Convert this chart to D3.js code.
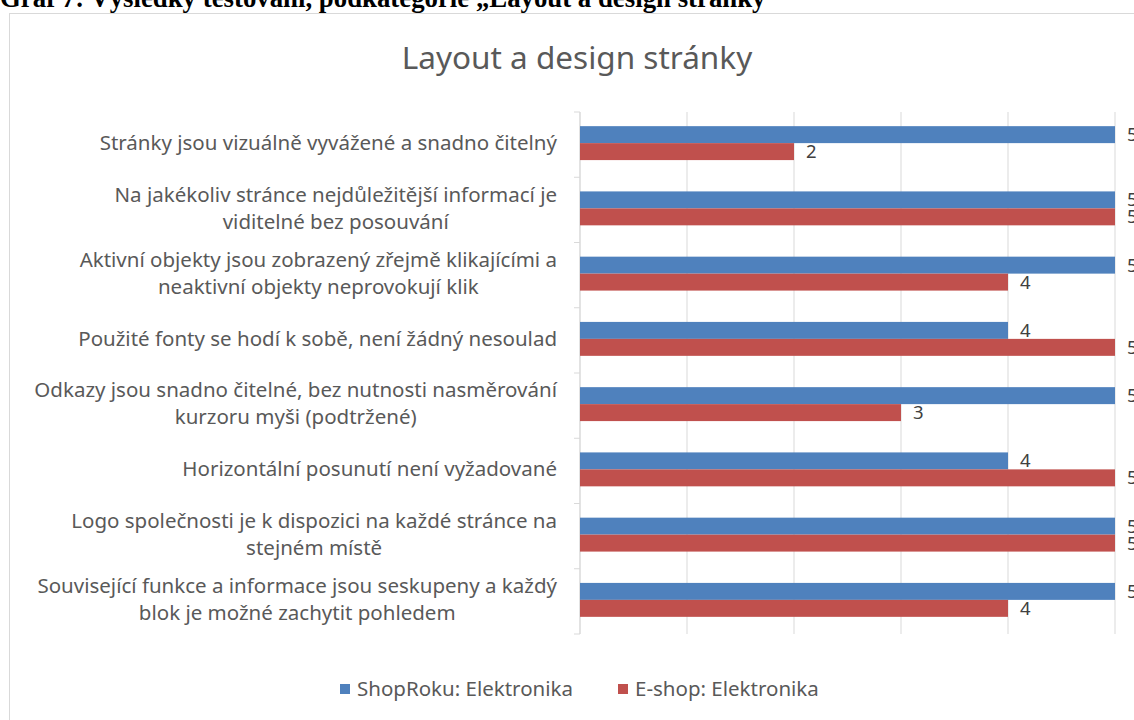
<!DOCTYPE html>
<html>
<head>
<meta charset="utf-8">
<script src="https://cdn.jsdelivr.net/npm/d3@7"></script>
<style>
  html, body { margin: 0; padding: 0; background: #fff; }
  svg { display: block; }
</style>
</head>
<body>
<svg id="chart" width="1134" height="720"></svg>
<script>
// Survey subcategory "Layout a design stránky" — scores per criterion
const categories = [
  ["Stránky jsou vizuálně vyvážené a snadno čitelný"],
  ["Na jakékoliv stránce nejdůležitější informací je", "viditelné bez posouvání"],
  ["Aktivní objekty jsou zobrazený zřejmě klikajícími a", "neaktivní objekty neprovokují klik"],
  ["Použité fonty se hodí k sobě, není žádný nesoulad"],
  ["Odkazy jsou snadno čitelné, bez nutnosti nasměrování", "kurzoru myši (podtržené)"],
  ["Horizontální posunutí není vyžadované"],
  ["Logo společnosti je k dispozici na každé stránce na", "stejném místě"],
  ["Související funkce a informace jsou seskupeny a každý", "blok je možné zachytit pohledem"]
];
const seriesNames = ["ShopRoku: Elektronika", "E-shop: Elektronika"];
const shopRoku = [5, 5, 5, 4, 5, 4, 5, 5];
const eShop    = [2, 5, 4, 5, 3, 5, 5, 4];
const xTicks = [0, 1, 2, 3, 4, 5];

const colors = ["#4f81bd", "#c0504d"];
const textColor = "#595959";
const font = "'Noto Sans', sans-serif";

const svg = d3.select("#chart");

// Caption above the chart frame (partly cut by the page top)
svg.append("text")
  .attr("x", 0).attr("y", 7)
  .attr("font-family", "'Liberation Serif', serif")
  .attr("font-weight", "bold")
  .attr("font-size", 26.8)
  .attr("fill", "#000")
  .text("Graf 7: Výsledky testování, podkategorie „Layout a design stránky\u201C");

// Chart frame
svg.append("rect")
  .attr("x", 9.5).attr("y", 13.5)
  .attr("width", 1140).attr("height", 720)
  .attr("fill", "#fff")
  .attr("stroke", "#d9d9d9");

// Title
svg.append("text")
  .attr("x", 577).attr("y", 69)
  .attr("text-anchor", "middle")
  .attr("font-family", font)
  .attr("font-size", 31.5)
  .attr("fill", textColor)
  .text("Layout a design stránky");

const x = d3.scaleLinear().domain([0, 5]).range([580, 1115]);
const y = d3.scaleBand().domain(d3.range(categories.length)).range([112, 634]).padding(0);
const groupH = y.bandwidth() * 0.52;
const ySub = d3.scaleBand().domain([0, 1]).range([0, groupH]);

// Vertical gridlines
svg.append("g")
  .selectAll("line")
  .data(xTicks)
  .join("line")
  .attr("x1", d => x(d)).attr("x2", d => x(d))
  .attr("y1", 112).attr("y2", 634)
  .attr("stroke", "#d9d9d9").attr("stroke-width", 1);

// Category axis with tick marks on band boundaries
const yAxis = svg.append("g").attr("transform", `translate(${x(0)},0)`);
yAxis.append("line")
  .attr("x1", 0).attr("x2", 0).attr("y1", 112).attr("y2", 634)
  .attr("stroke", "#d9d9d9");
yAxis.selectAll("line.tick")
  .data(d3.range(categories.length + 1))
  .join("line")
  .attr("class", "tick")
  .attr("x1", -6).attr("x2", 0)
  .attr("y1", d => d < categories.length ? y(d) : y.range()[1])
  .attr("y2", d => d < categories.length ? y(d) : y.range()[1])
  .attr("stroke", "#d9d9d9");

// Category labels: block right-aligned to the axis, lines centred within the block
const lineH = 27;
const labelRight = 557;
const labels = svg.append("g")
  .selectAll("text")
  .data(categories)
  .join("text")
  .attr("font-family", font)
  .attr("font-size", 20.5)
  .attr("fill", textColor);
labels.each(function(lines, i) {
  const cy = y(i) + y.bandwidth() / 2 - 2;
  const y0 = cy - (lines.length - 1) * lineH / 2;
  const t = d3.select(this);
  const spans = t.selectAll("tspan")
    .data(lines)
    .join("tspan")
    .attr("y", (d, j) => y0 + j * lineH)
    .attr("dy", "0.35em")
    .text(d => d);
  let maxW = 0;
  spans.each(function() { maxW = Math.max(maxW, this.getComputedTextLength()); });
  t.attr("text-anchor", "middle");
  spans.attr("x", labelRight - maxW / 2);
});

// Bars
const series = [shopRoku, eShop];
series.forEach((vals, s) => {
  const g = svg.append("g");
  const top = i => y(i) + (y.bandwidth() - groupH) / 2 - 1.5 + ySub(s);
  g.selectAll("rect")
    .data(vals)
    .join("rect")
    .attr("x", x(0))
    .attr("y", (d, i) => top(i))
    .attr("width", d => x(d) - x(0))
    .attr("height", ySub.bandwidth())
    .attr("fill", colors[s]);
  g.selectAll("text")
    .data(vals)
    .join("text")
    .attr("x", d => x(d) + 12)
    .attr("y", (d, i) => top(i) + ySub.bandwidth() / 2)
    .attr("dy", "0.35em")
    .attr("font-family", font)
    .attr("font-size", 18.5)
    .attr("fill", "#404040")
    .text(d => d);
});

// Legend
const legend = svg.append("g").attr("transform", "translate(340,689)");
const legendX = [0, 278];
seriesNames.forEach((name, s) => {
  const item = legend.append("g").attr("transform", `translate(${legendX[s]},0)`);
  item.append("rect")
    .attr("x", 0).attr("y", -5)
    .attr("width", 10).attr("height", 10)
    .attr("fill", colors[s]);
  item.append("text")
    .attr("x", 17).attr("y", 0).attr("dy", "0.35em")
    .attr("font-family", font)
    .attr("font-size", 20.5)
    .attr("fill", textColor)
    .text(name);
});
</script>
</body>
</html>
